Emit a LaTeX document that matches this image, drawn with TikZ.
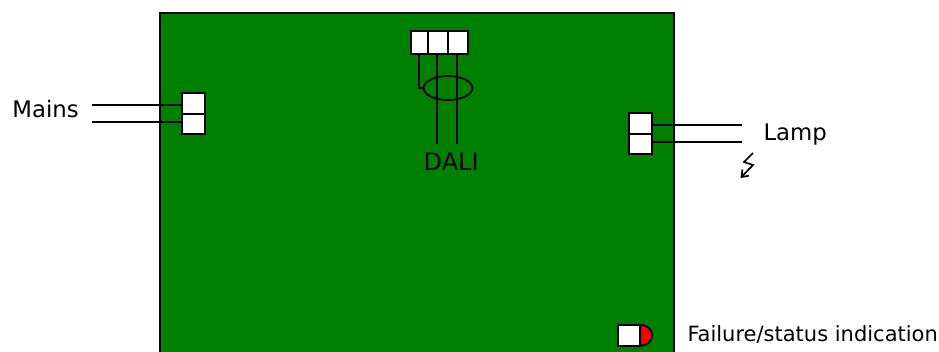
\documentclass[tikz,border=0pt]{standalone}
\usepackage{fontspec}
\setmainfont{DejaVu Sans}
\usetikzlibrary{shapes.geometric,positioning,arrows.meta}
\definecolor{boardgreen}{HTML}{008000}
\tikzstyle{board} = [rectangle, draw, fill=boardgreen, line width=1.5pt, inner sep=0pt, outer sep=0pt,
  minimum width=514pt, minimum height=350pt]
\tikzstyle{terminal} = [rectangle, draw, fill=white, line width=1.8pt, inner sep=0pt, outer sep=0pt,
  minimum width=23pt, minimum height=20.5pt]
\tikzstyle{pin} = [terminal, minimum width=20pt, minimum height=23pt]
\tikzstyle{ledbody} = [terminal, minimum width=22.5pt, minimum height=21pt]
\tikzstyle{ring} = [ellipse, draw, line width=1.8pt, minimum width=49pt, minimum height=24pt, inner sep=0pt, outer sep=0pt]
\tikzstyle{lbl} = [font=\fontsize{22.8pt}{24pt}\selectfont, inner sep=0pt, anchor=base west]
\tikzstyle{wire} = [draw, line width=1.8pt]

\begin{document}
\begin{tikzpicture}[x=1pt, y=-1pt]
\clip (0,0) rectangle (939,352);
\path[use as bounding box] (0,0) rectangle (939,352);

% ==========================================
% BOARD
% ==========================================
\node[board, anchor=north west] (ballast) at (160,13) {};

% ==========================================
% DALI (top)
% ==========================================
\node[pin, minimum width=17pt] (dali_a) at (419.2,42.5) {};
\node[pin, right=0pt of dali_a] (dali_b) {};
\node[pin, right=0pt of dali_b] (dali_c) {};
\node[ring] (dali_ring) at (448,88) {};
\node[lbl, font=\fontsize{24pt}{26pt}\selectfont] (dali_label) at (423.5,170.3) {DALI};
\coordinate (dali_end_b) at (437,144);
\coordinate (dali_end_c) at (457,144);
\draw[wire] (dali_a.south) |- (dali_ring.west);
\draw[wire] (dali_b.south -| dali_end_b) -- (dali_end_b);
\draw[wire] (dali_c.south -| dali_end_c) -- (dali_end_c);

% ==========================================
% MAINS (left)
% ==========================================
\node[terminal] (mains_a) at (193.2,103.5) {};
\node[terminal, below=0pt of mains_a] (mains_b) {};
\node[lbl] (mains_label) at (12.3,118) {Mains};
\coordinate (mains_end_a) at (92,105);
\coordinate (mains_end_b) at (92,122);
\draw[wire] (mains_end_a) -- (mains_a.west |- mains_end_a);
\draw[wire] (mains_end_b) -- (mains_b.west |- mains_end_b);

% ==========================================
% LAMP (right)
% ==========================================
\node[terminal] (lamp_a) at (640.2,123.5) {};
\node[terminal, below=0pt of lamp_a] (lamp_b) {};
\node[lbl] (lamp_label) at (763.3,140.7) {Lamp};
\coordinate (lamp_end_a) at (742,125);
\coordinate (lamp_end_b) at (742,142);
\draw[wire] (lamp_a.east |- lamp_end_a) -- (lamp_end_a);
\draw[wire] (lamp_b.east |- lamp_end_b) -- (lamp_end_b);

% Flash below the lamp
\coordinate (flash_start) at (753,153);
\coordinate (flash_end) at (740.5,178);
\draw[line width=1.7pt, -{Straight Barb[length=6pt,width=9pt]}] (flash_start) -- (744,162) -- (753,165) -- (flash_end);

% ==========================================
% STATUS LED (bottom right)
% ==========================================
\node[ledbody] (led) at (629,335.3) {};
\draw[line width=1.8pt, fill=red] (led.north east) arc[start angle=90, end angle=-90, x radius=12pt, y radius=10.5pt] -- cycle;
\node[lbl, font=\fontsize{21pt}{24pt}\selectfont] (led_label) at (687.3,341.3) {Failure/status indication};

\end{tikzpicture}
\end{document}
